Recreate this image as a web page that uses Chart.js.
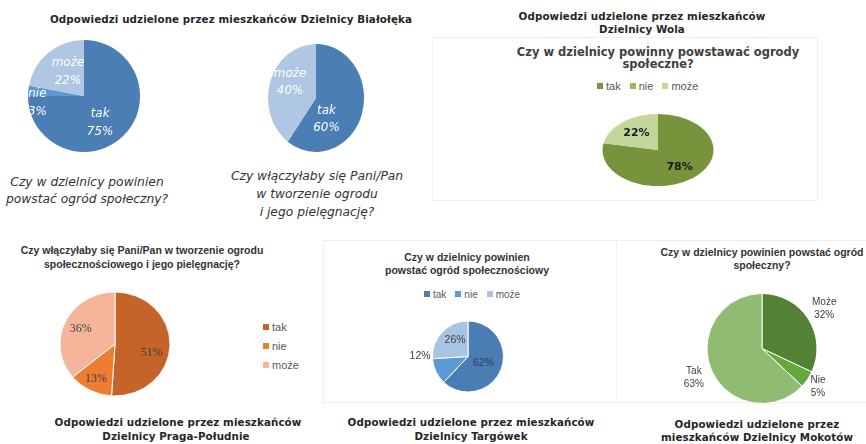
<!DOCTYPE html>
<html lang="pl">
<head>
<meta charset="utf-8">
<title>Ogrody społeczne – odpowiedzi mieszkańców</title>
<script src="https://cdn.jsdelivr.net/npm/chart.js@4/dist/chart.umd.min.js"></script>
<style>
  html, body { margin: 0; padding: 0; background: #fff; }
  #page { position: relative; width: 866px; height: 444px; overflow: hidden; background: #fff; }
  .c { position: absolute; transform: translate(-50%, -50%); white-space: nowrap; color: #262626; }
  .head { font: bold 10.3px "DejaVu Sans", sans-serif; letter-spacing: 0.1px; }
  .hand { font: italic 12.3px "DejaVu Sans", sans-serif; color: #333; }
  .qt { font: bold 10.5px "Liberation Sans", Arial, sans-serif; color: #333; }
  .wt { font: bold 11.5px "DejaVu Sans", sans-serif; color: #404040; }
  .box { position: absolute; border: 1px solid #efefef; }
  .pie { position: absolute; }
  .leg { position: absolute; font: 10px "Liberation Sans", Arial, sans-serif; color: #595959; white-space: nowrap; }
  .leg span.m { display: inline-block; width: 6px; height: 6px; margin-right: 3px; vertical-align: 1px; }
  .leg span.it { margin-right: 9px; }
</style>
</head>
<body>
<div id="page">
  <div class="box" style="left:432px;top:37px;width:384px;height:162px;"></div>
  <div class="box" style="left:323px;top:240px;width:292px;height:161px;"></div>
  <div class="box" style="left:615px;top:240px;width:260px;height:161px;border-left:none;"></div>

  <div class="c head" style="left:231px;top:19px;">Odpowiedzi udzielone przez mieszkańców Dzielnicy Białołęka</div>
  <div class="c head" style="left:642px;top:16px;">Odpowiedzi udzielone przez mieszkańców</div>
  <div class="c head" style="left:642px;top:29px;">Dzielnicy Wola</div>

  <div class="c hand" style="left:87px;top:182px;">Czy w dzielnicy powinien</div>
  <div class="c hand" style="left:87px;top:199px;">powstać ogród społeczny?</div>
  <div class="c hand" style="left:317px;top:176px;">Czy włączyłaby się Pani/Pan</div>
  <div class="c hand" style="left:317px;top:194px;">w tworzenie ogrodu</div>
  <div class="c hand" style="left:317px;top:212px;">i jego pielęgnację?</div>

  <div class="c wt" style="left:658px;top:52px;">Czy w dzielnicy powinny powstawać ogrody</div>
  <div class="c wt" style="left:658px;top:64px;">społeczne?</div>

  <div class="c qt" style="left:142px;top:250px;">Czy włączyłaby się Pani/Pan w tworzenie ogrodu</div>
  <div class="c qt" style="left:142px;top:264px;">społecznościowego i jego pielęgnację?</div>
  <div class="c qt" style="left:467px;top:257px;">Czy w dzielnicy powinien</div>
  <div class="c qt" style="left:467px;top:270px;">powstać ogród społecznościowy</div>
  <div class="c qt" style="left:762px;top:252px;">Czy w dzielnicy powinien powstać ogród</div>
  <div class="c qt" style="left:762px;top:265px;">społeczny?</div>

  <div class="c head" style="left:178px;top:422px;">Odpowiedzi udzielone przez mieszkańców</div>
  <div class="c head" style="left:176px;top:436px;">Dzielnicy Praga-Południe</div>
  <div class="c head" style="left:471px;top:422px;">Odpowiedzi udzielone przez mieszkańców</div>
  <div class="c head" style="left:471px;top:436px;">Dzielnicy Targówek</div>
  <div class="c head" style="left:757px;top:424px;">Odpowiedzi udzielone przez</div>
  <div class="c head" style="left:757px;top:437px;">mieszkańców Dzielnicy Mokotów</div>

  <div class="leg" id="legWola" style="left:597px;top:80px;font-size:11px;"></div>
  <div class="leg" id="legTargowek" style="left:424px;top:289px;"></div>
  <div class="leg" id="legPraga" style="left:263px;top:318px;font-size:11px;line-height:19px;"></div>

  <div class="pie" style="left:4px;top:16px;width:160px;height:160px;"><canvas id="pieBialolekaQ1"></canvas></div>
  <div class="pie" style="left:236px;top:18px;width:160px;height:160px;"><canvas id="pieBialolekaQ2"></canvas></div>
  <div class="pie" style="left:578px;top:90px;width:160px;height:120px;"><canvas id="pieWola"></canvas></div>
  <div class="pie" style="left:35px;top:280px;width:160px;height:128px;"><canvas id="piePraga"></canvas></div>
  <div class="pie" style="left:408px;top:306px;width:120px;height:101px;"><canvas id="pieTargowek"></canvas></div>
  <div class="pie" style="left:672px;top:278px;width:180px;height:141px;"><canvas id="pieMokotow"></canvas></div>
</div>

<script>
// Białołęka
const bialolekaQ1Labels = ["tak", "nie", "może"];
const bialolekaQ1Values = [75, 3, 22];
const bialolekaQ2Labels = ["tak", "może"];
const bialolekaQ2Values = [60, 40];

// Wola
const wolaLabels = ["tak", "nie", "może"];
const wolaValues = [78, 0, 22];

// Praga-Południe
const pragaLabels = ["tak", "nie", "może"];
const pragaValues = [51, 13, 36];

// Targówek
const targowekLabels = ["tak", "nie", "może"];
const targowekValues = [62, 12, 26];

// Mokotów
const mokotowLabels = ["Może", "Nie", "Tak"];
const mokotowValues = [32, 5, 63];

const blueColors = ["#4a7eb4", "#5a9ad6", "#b0c7e4"];
const blueColors2 = ["#4a7eb4", "#b0c7e4"];
const wolaColors = ["#77933c", "#9bbb59", "#c3d69b"];
const pragaColors = ["#c56428", "#ed7d31", "#f4b59b"];
const targowekColors = ["#4a7db4", "#5b9bd5", "#a9c3e3"];
const mokotowColors = ["#548235", "#62a83c", "#8fbc72"];

// squash the arcs into an ellipse and write the slice labels
const pieExtras = {
  id: "pieExtras",
  beforeDatasetsDraw(chart, args, o) {
    const arc = chart.getDatasetMeta(0).data[0];
    const ctx = chart.ctx;
    ctx.save();
    ctx.translate(arc.x, arc.y);
    ctx.scale(o.sx || 1, o.sy || 1);
    ctx.translate(-arc.x, -arc.y);
  },
  afterDatasetsDraw(chart, args, o) {
    const ctx = chart.ctx;
    ctx.restore();
    const meta = chart.getDatasetMeta(0);
    const values = chart.data.datasets[0].data;
    const names = chart.data.labels;
    ctx.save();
    ctx.font = o.font;
    ctx.textAlign = "center";
    ctx.textBaseline = "middle";
    meta.data.forEach((arc, i) => {
      const v = values[i];
      if (!v) return;
      const R = arc.outerRadius;
      const deg = o.angles && o.angles[i] != null ? o.angles[i] : null;
      const a = deg == null ? (arc.startAngle + arc.endAngle) / 2 : deg * Math.PI / 180 - Math.PI / 2;
      const f = Array.isArray(o.frac) ? o.frac[i] : o.frac;
      const x = arc.x + (o.sx || 1) * f * R * Math.cos(a);
      const y = arc.y + (o.sy || 1) * f * R * Math.sin(a);
      const lines = o.showName ? [names[i], v + "%"] : [v + "%"];
      ctx.fillStyle = Array.isArray(o.color) ? o.color[i] : o.color;
      const lh = o.lineHeight || 14;
      lines.forEach((t, k) => {
        ctx.fillText(t, x, y + (k - (lines.length - 1) / 2) * lh);
      });
    });
    ctx.restore();
  }
};

function makePie(id, labels, values, colors, radius, extras, border) {
  return new Chart(document.getElementById(id), {
    type: "pie",
    data: {
      labels,
      datasets: [{
        data: values,
        backgroundColor: colors,
        borderColor: "#ffffff",
        borderWidth: border,
        radius
      }]
    },
    options: {
      responsive: true,
      maintainAspectRatio: false,
      animation: false,
      events: [],
      layout: { padding: 0 },
      plugins: {
        legend: { display: false },
        tooltip: { enabled: false },
        title: { display: false },
        pieExtras: extras
      }
    },
    plugins: [pieExtras]
  });
}

function buildLegend(id, labels, colors, vertical) {
  const el = document.getElementById(id);
  el.innerHTML = labels.map((l, i) =>
    `<span class="it"><span class="m" style="background:${colors[i]}"></span>${l}</span>`
  ).join(vertical ? "<br>" : "");
}

const handFont = "italic 12px 'DejaVu Sans', sans-serif";

makePie("pieBialolekaQ1", bialolekaQ1Labels, bialolekaQ1Values, blueColors, 56, {
  font: handFont, color: "#ffffff", showName: true, lineHeight: 18,
  angles: [149, 262, 326], frac: [0.56, 0.84, 0.51]
}, 0);

makePie("pieBialolekaQ2", bialolekaQ2Labels, bialolekaQ2Values, blueColors2, 54, {
  sx: 0.89, sy: 1,
  font: handFont, color: "#ffffff", showName: true, lineHeight: 17,
  angles: [151, 298], frac: [0.45, 0.61]
}, 0);

makePie("pieWola", wolaLabels, wolaValues, wolaColors, 55.5, {
  sx: 1, sy: 0.65,
  font: "bold 11px 'DejaVu Sans', sans-serif", color: "#1a1a1a",
  frac: 0.61
}, 0);

makePie("piePraga", pragaLabels, pragaValues, pragaColors, 55, {
  sx: 1, sy: 0.945,
  font: "12px 'Liberation Serif', serif", color: "#3d3d3d",
  angles: [104, null, null], frac: [0.69, 0.76, 0.69]
}, 1);

makePie("pieTargowek", targowekLabels, targowekValues, targowekColors, 35.5, {
  font: "10.5px 'Liberation Sans', Arial, sans-serif", color: ["#2c3e55", "#404040", "#404040"],
  angles: [null, 270, 322], frac: [0.47, 1.35, 0.59]
}, 1);

makePie("pieMokotow", mokotowLabels, mokotowValues, mokotowColors, 55, {
  font: "10px 'Liberation Sans', Arial, sans-serif", color: "#404040", showName: true, lineHeight: 13,
  frac: [1.34, 1.23, 1.35]
}, 1);

buildLegend("legWola", wolaLabels, wolaColors, false);
buildLegend("legTargowek", targowekLabels, targowekColors, false);
buildLegend("legPraga", pragaLabels, pragaColors, true);
</script>
</body>
</html>
